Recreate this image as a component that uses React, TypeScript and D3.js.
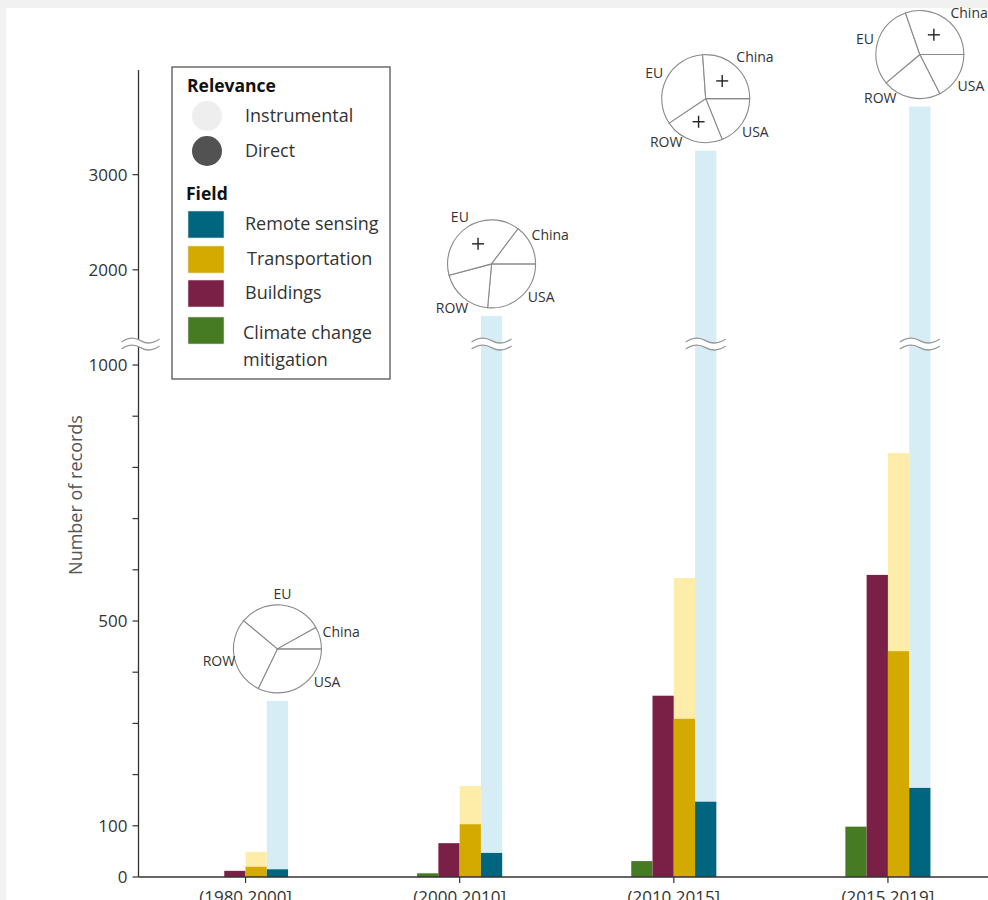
import React from 'react';
import * as d3 from 'd3';

// periods on the x axis
const periods = ['(1980,2000]', '(2000,2010]', '(2010,2015]', '(2015,2019]'];
const fields = ['Climate change mitigation', 'Buildings', 'Transportation', 'Remote sensing'];

// number of records per period (instrumental = total bar, direct = darker overlay)
const climateDirect = [0, 7, 31, 98];
const climateInstrumental = [0, 8, 31, 99];
const buildingsDirect = [12, 66, 354, 590];
const buildingsInstrumental = [12, 66, 354, 590];
const transportDirect = [20, 103, 309, 441];
const transportInstrumental = [49, 178, 584, 828];
const remoteDirect = [15, 47, 147, 174];
const remoteInstrumental = [344, 1516, 3253, 3716];

// regional shares of remote sensing records, clockwise from east
const regions = ['USA', 'ROW', 'EU', 'China'];
const regionShares = [
  [32.2, 28.9, 30.8, 8.1],
  [26.4, 19.4, 39.4, 14.7],
  [18.9, 21.7, 33.3, 26.1],
  [17.5, 21.4, 30.8, 30.3],
];
const plusRegions = [[], ['EU'], ['China', 'ROW'], ['China']];

const yTicks = [0, 100, 200, 300, 400, 500, 600, 700, 800, 900, 1000, 2000, 3000];
const yTickLabels = [0, 100, 500, 1000, 2000, 3000];
const breakValue = 1220;

const darkColors = ['#467a23', '#7a1f45', '#d4a900', '#00667f'];
const lightColors = ['#c8dfb4', '#e6c3d2', '#feeda8', '#d6edf5'];

const W = 988;
const H = 900;
const font = '"Open Sans", "DejaVu Sans", sans-serif';

function tilde(cx: number, cy: number, w: number) {
  return `M${cx - w / 2},${cy + 1.5} Q${cx - w / 4},${cy - 5.5} ${cx},${cy} T${cx + w / 2},${cy - 1.5}`;
}

function BreakMark({ cx, cy, w }: { cx: number; cy: number; w: number }) {
  return (
    <g>
      <path d={tilde(cx, cy, w)} fill="none" stroke="#fff" strokeWidth={6} />
      <path d={tilde(cx, cy - 3.5, w)} fill="none" stroke="#9a9a9a" strokeWidth={1.3} />
      <path d={tilde(cx, cy + 3.5, w)} fill="none" stroke="#9a9a9a" strokeWidth={1.3} />
    </g>
  );
}

// keep pie labels clear of the bar under the pie
function labelAngle(mid: number) {
  // mid: d3 angle (clockwise from north) -> degrees counterclockwise from east
  let a = 90 - (mid * 180) / Math.PI;
  a = ((a + 540) % 360) - 180;
  if (a < 0 && a >= -90) a = Math.max(a, -34);
  else if (a < -90) a = Math.min(a, -132);
  else if (a >= 0 && a < 65) a = Math.min(a, 40);
  return (a * Math.PI) / 180;
}

export default function App() {
  const axisX = 138.5;
  const baseY = 877;

  const y = d3.scaleLinear().domain([0, 1000, 4100]).range([baseY, 365, 70]);
  const x = d3.scalePoint<string>().domain(periods).range([axisX, 995]).padding(0.5);
  const sub = d3.scaleBand<string>().domain(fields).range([-42.5, 42.5]);

  const direct = [climateDirect, buildingsDirect, transportDirect, remoteDirect];
  const instrumental = [climateInstrumental, buildingsInstrumental, transportInstrumental, remoteInstrumental];

  const pieR = 44;
  const pie = d3
    .pie<number>()
    .sort(null)
    .startAngle(Math.PI / 2)
    .endAngle(Math.PI / 2 + 2 * Math.PI);
  const arc = d3.arc<d3.PieArcDatum<number>>().innerRadius(0).outerRadius(pieR);
  const innerArc = d3.arc<d3.PieArcDatum<number>>().innerRadius(pieR * 0.3).outerRadius(pieR * 0.8);

  const breakY = y(breakValue);

  return (
    <svg width={W} height={H} style={{ position: 'absolute', left: 0, top: 0, fontFamily: font }}>
      <rect x={0} y={0} width={W} height={H} fill="#f1f1f1" />
      <rect x={6} y={8} width={W} height={H} fill="#fff" />

      {/* bars */}
      {periods.map((p, i) => (
        <g key={p} transform={`translate(${x(p)},0)`}>
          {fields.map((f, j) => {
            const bx = sub(f)!;
            const bw = sub.bandwidth();
            return (
              <g key={f}>
                {instrumental[j][i] > 0 && (
                  <rect x={bx} y={y(instrumental[j][i])} width={bw} height={baseY - y(instrumental[j][i])} fill={lightColors[j]} />
                )}
                {direct[j][i] > 0 && (
                  <rect x={bx} y={y(direct[j][i])} width={bw} height={baseY - y(direct[j][i])} fill={darkColors[j]} />
                )}
              </g>
            );
          })}
        </g>
      ))}

      {/* axis break marks on tall bars */}
      {periods.map((p, i) =>
        remoteInstrumental[i] > breakValue ? (
          <BreakMark key={p} cx={x(p)! + sub('Remote sensing')! + sub.bandwidth() / 2} cy={breakY} w={40} />
        ) : null
      )}

      {/* pies */}
      {periods.map((p, i) => {
        const cx = x(p)! + sub('Remote sensing')! + sub.bandwidth() / 2;
        const cy = y(remoteInstrumental[i]) - 52;
        const slices = pie(regionShares[i]);
        return (
          <g key={p} transform={`translate(${cx},${cy})`}>
            {slices.map((s, k) => (
              <path key={k} d={arc(s)!} fill="#fff" stroke="#8a8a8a" strokeWidth={1.1} />
            ))}
            {slices.map((s, k) => {
              const a = labelAngle((s.startAngle + s.endAngle) / 2);
              const hw = 3.85 * regions[k].length;
              const rr = pieR + 6 + 0.8 * hw * Math.abs(Math.cos(a)) + 4 * Math.abs(Math.sin(a));
              return (
                <text
                  key={'l' + k}
                  x={rr * Math.cos(a)}
                  y={-rr * Math.sin(a)}
                  dy="0.35em"
                  textAnchor="middle"
                  fontSize={14}
                  fill="#333"
                >
                  {regions[k]}
                </text>
              );
            })}
            {slices.map((s, k) => {
              if (!plusRegions[i].includes(regions[k])) return null;
              const [px, py] = innerArc.centroid(s);
              return (
                <g key={'p' + k} stroke="#222" strokeWidth={1.4}>
                  <line x1={px - 6} x2={px + 6} y1={py} y2={py} />
                  <line x1={px} x2={px} y1={py - 6} y2={py + 6} />
                </g>
              );
            })}
          </g>
        );
      })}

      {/* y axis */}
      <line x1={axisX} x2={axisX} y1={70} y2={baseY} stroke="#333" strokeWidth={1.3} />
      {yTicks.map((t) => (
        <line key={t} x1={axisX - 6} x2={axisX} y1={y(t)} y2={y(t)} stroke="#333" strokeWidth={1.2} />
      ))}
      {yTickLabels.map((t) => (
        <text key={t} x={axisX - 11} y={y(t)} dy="0.36em" textAnchor="end" fontSize={17} fill="#333">
          {t}
        </text>
      ))}
      <BreakMark cx={axisX + 2} cy={breakY} w={38} />
      <text transform={`translate(76,495) rotate(-90)`} textAnchor="middle" dy="0.36em" fontSize={18} fill="#555">
        Number of records
      </text>

      {/* x axis */}
      <line x1={axisX} x2={W} y1={baseY} y2={baseY} stroke="#333" strokeWidth={1.3} />
      {periods.map((p) => (
        <g key={p}>
          <line x1={x(p)} x2={x(p)} y1={baseY} y2={baseY + 6} stroke="#333" strokeWidth={1.2} />
          <text x={x(p)} y={903} textAnchor="middle" fontSize={17} fill="#333">
            {p}
          </text>
        </g>
      ))}

      {/* legend */}
      <g>
        <rect x={172} y={67} width={218} height={312} fill="#fff" stroke="#555" strokeWidth={1.3} />
        <text x={187} y={92} fontSize={17.5} fontWeight="bold" fill="#111">
          Relevance
        </text>
        <circle cx={207} cy={116} r={15} fill="#eeeeee" />
        <text x={245} y={122} fontSize={18} fill="#333">
          Instrumental
        </text>
        <circle cx={207} cy={151} r={15} fill="#525252" />
        <text x={245} y={157} fontSize={18} fill="#333">
          Direct
        </text>
        <text x={186} y={200} fontSize={17.5} fontWeight="bold" fill="#111">
          Field
        </text>
        {['Remote sensing', 'Transportation', 'Buildings', 'Climate change mitigation'].map((f, k) => {
          const j = fields.indexOf(f);
          const sy = [211, 246, 280, 317][k];
          return (
            <g key={f}>
              <rect x={188} y={sy} width={36} height={27} fill={darkColors[j]} stroke="#ddd" strokeWidth={0.6} />
              {f === 'Climate change mitigation' ? (
                <text x={243} y={339} fontSize={18} fill="#333">
                  <tspan x={243}>Climate change</tspan>
                  <tspan x={243} y={366}>
                    mitigation
                  </tspan>
                </text>
              ) : (
                <text x={f === 'Transportation' ? 247 : 245} y={sy + 19} fontSize={18} fill="#333">
                  {f}
                </text>
              )}
            </g>
          );
        })}
      </g>
    </svg>
  );
}
